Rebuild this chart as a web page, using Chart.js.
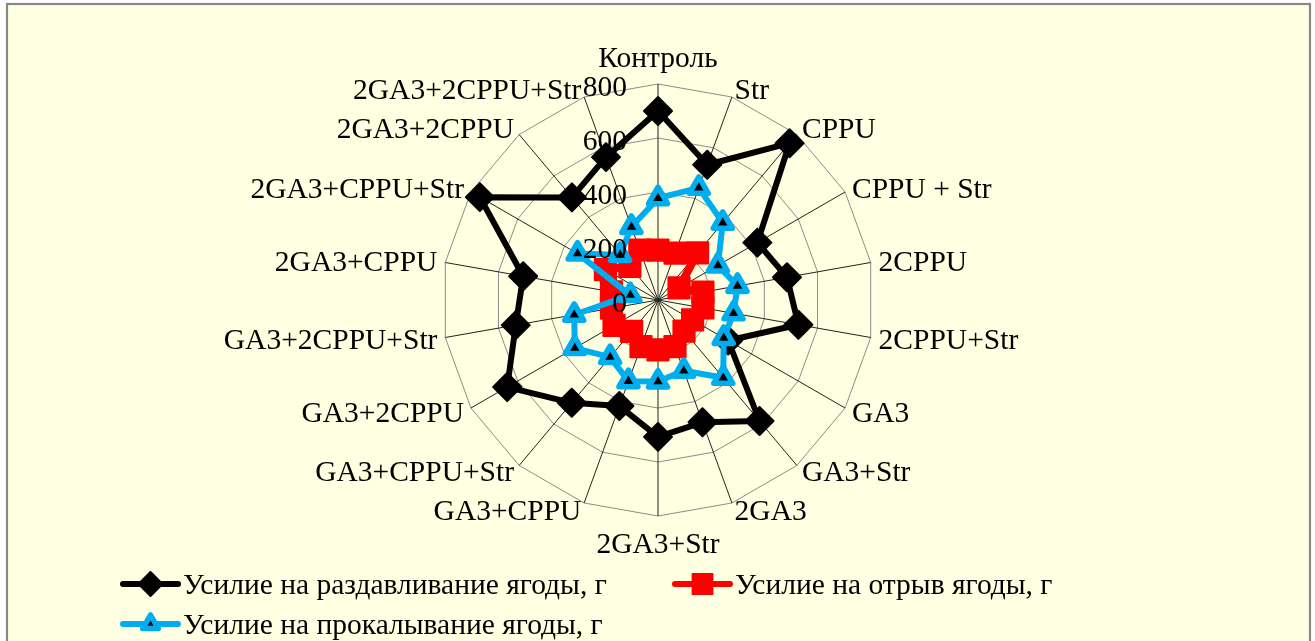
<!DOCTYPE html>
<html lang="ru">
<head>
<meta charset="utf-8">
<title>Усилия на ягоду</title>
<script src="https://cdn.jsdelivr.net/npm/chart.js@4.4.1/dist/chart.umd.min.js"></script>
<style>
  html, body { margin: 0; padding: 0; background: #ffffff; }
  canvas { display: block; }
</style>
</head>
<body>
<canvas id="chart" width="1315" height="641" style="width:1315px;height:641px"></canvas>
<script>
// Treatment variants, clockwise from the top
const categories = [
  'Контроль', 'Str', 'CPPU', 'CPPU + Str', '2CPPU', '2CPPU+Str',
  'GA3', 'GA3+Str', '2GA3', '2GA3+Str', 'GA3+CPPU', 'GA3+CPPU+Str',
  'GA3+2CPPU', 'GA3+2CPPU+Str', '2GA3+CPPU', '2GA3+CPPU+Str',
  '2GA3+2CPPU', '2GA3+2CPPU+Str'
];

// Crushing force, g
const crushForce = [700, 533, 758, 425, 485, 528, 300, 585, 482, 507, 418, 497, 645, 535, 507, 762, 496, 563];
// Detachment force, g
const detachForce = [185, 185, 228, 90, 169, 169, 148, 150, 184, 185, 184, 152, 188, 175, 175, 225, 162, 197];
// Puncture force, g
const punctureForce = [377, 442, 373, 256, 299, 284, 281, 376, 279, 302, 320, 276, 356, 315, 104, 344, 218, 288];

const seriesNames = [
  'Усилие на раздавливание ягоды, г',
  'Усилие на отрыв ягоды, г',
  'Усилие на прокалывание ягоды, г'
];

// Radial axis ticks
const tickValues = [0, 200, 400, 600, 800];

const FONT = '29.5px "Liberation Serif", "Times New Roman", serif';
const BLUE = '#00AEEF';

// Pale panel with a grey frame behind the whole chart
const framePlugin = {
  id: 'frame',
  beforeDraw(chart) {
    const ctx = chart.ctx;
    ctx.save();
    ctx.fillStyle = '#ffffff';
    ctx.fillRect(0, 0, chart.width, chart.height);
    ctx.fillStyle = '#FFFFE1';
    ctx.fillRect(7, 4, 1303, chart.height);
    ctx.strokeStyle = '#888888';
    ctx.lineWidth = 2.2;
    ctx.strokeRect(7, 4, 1303, chart.height + 20);
    ctx.restore();
  },
  beforeDatasetsDraw(chart) {
    // rounded corners for the thick marker outlines
    chart.ctx.lineJoin = 'round';
  }
};

// Category labels around the web and value labels along the vertical axis
const textPlugin = {
  id: 'radarText',
  afterDatasetsDraw(chart) {
    const s = chart.scales.r;
    const ctx = chart.ctx;
    ctx.save();
    ctx.font = FONT;
    ctx.fillStyle = '#000000';
    ctx.textBaseline = 'middle';

    ctx.textAlign = 'right';
    tickValues.forEach(v => {
      const d = s.getDistanceFromCenterForValue(v);
      ctx.fillText(String(v), s.xCenter - 31, s.yCenter - d + 4);
    });

    categories.forEach((name, i) => {
      const p = s.getPointPosition(i, s.drawingArea + 8);
      const a = s.getIndexAngle(i);
      const sn = Math.sin(a), cs = Math.cos(a);
      let y = p.y + 2;
      if (Math.abs(sn) < 0.01) {
        ctx.textAlign = 'center';
        y += cs > 0 ? -19 : 19;
      } else {
        ctx.textAlign = sn > 0 ? 'left' : 'right';
      }
      ctx.fillText(name, p.x, y);
    });
    ctx.restore();
  }
};

// Legend: line sample with the series marker, then the series name
const legendSlots = [
  { x: 123, y: 584 },
  { x: 675, y: 584 },
  { x: 123, y: 624 }
];
const legendPlugin = {
  id: 'lineLegend',
  afterDraw(chart) {
    const ctx = chart.ctx;
    ctx.save();
    chart.data.datasets.forEach(ds => {
      const slot = legendSlots[ds.legendIndex];
      const x0 = slot.x, x1 = slot.x + 55, y = slot.y;
      ctx.strokeStyle = ds.borderColor;
      ctx.lineWidth = ds.legendLineWidth;
      ctx.lineCap = 'round';
      ctx.beginPath();
      ctx.moveTo(x0, y);
      ctx.lineTo(x1, y);
      ctx.stroke();
      ctx.lineJoin = 'round';
      ctx.fillStyle = ds.pointBackgroundColor;
      ctx.strokeStyle = ds.pointBorderColor;
      ctx.lineWidth = ds.pointBorderWidth;
      Chart.helpers.drawPoint(ctx, {
        pointStyle: ds.pointStyle,
        radius: ds.legendPointRadius,
        borderWidth: ds.pointBorderWidth,
        rotation: 0
      }, (x0 + x1) / 2, y);
      ctx.font = FONT;
      ctx.fillStyle = '#000000';
      ctx.textAlign = 'left';
      ctx.textBaseline = 'middle';
      ctx.fillText(seriesNames[ds.legendIndex], x1 + 5, y + 2);
    });
    ctx.restore();
  }
};

new Chart(document.getElementById('chart'), {
  type: 'radar',
  data: {
    labels: categories,
    datasets: [
      {
        label: seriesNames[0],
        legendIndex: 0,
        data: crushForce,
        order: 3,
        borderColor: '#000000',
        borderWidth: 6,
        legendLineWidth: 6,
        borderJoinStyle: 'round',
        pointStyle: 'rectRot',
        pointRadius: 14,
        legendPointRadius: 12,
        pointBackgroundColor: '#000000',
        pointBorderColor: '#000000',
        pointBorderWidth: 2,
        fill: false
      },
      {
        label: seriesNames[1],
        legendIndex: 1,
        data: detachForce,
        order: 2,
        borderColor: '#FF0000',
        borderWidth: 8,
        legendLineWidth: 6,
        borderJoinStyle: 'round',
        pointStyle: 'rect',
        pointRadius: 15,
        legendPointRadius: 14,
        pointBackgroundColor: '#FF0000',
        pointBorderColor: '#FF0000',
        pointBorderWidth: 2,
        fill: false
      },
      {
        label: seriesNames[2],
        legendIndex: 2,
        data: punctureForce,
        order: 1,
        borderColor: BLUE,
        borderWidth: 6,
        legendLineWidth: 6,
        borderJoinStyle: 'round',
        pointStyle: 'triangle',
        pointRadius: 11,
        legendPointRadius: 9,
        pointBackgroundColor: '#000000',
        pointBorderColor: BLUE,
        pointBorderWidth: 5.5,
        fill: false
      }
    ]
  },
  options: {
    responsive: false,
    animation: false,
    events: [],
    layout: { padding: { top: 84, bottom: 125, left: 200, right: 199 } },
    elements: { line: { tension: 0 } },
    plugins: {
      legend: { display: false },
      tooltip: { enabled: false },
      title: { display: false }
    },
    scales: {
      r: {
        min: 0,
        max: 800,
        ticks: { stepSize: 200, display: false },
        grid: { color: '#8C8C8C', lineWidth: 1 },
        angleLines: { color: '#222222', lineWidth: 1 },
        pointLabels: { display: false }
      }
    }
  },
  plugins: [framePlugin, textPlugin, legendPlugin]
});
</script>
</body>
</html>
